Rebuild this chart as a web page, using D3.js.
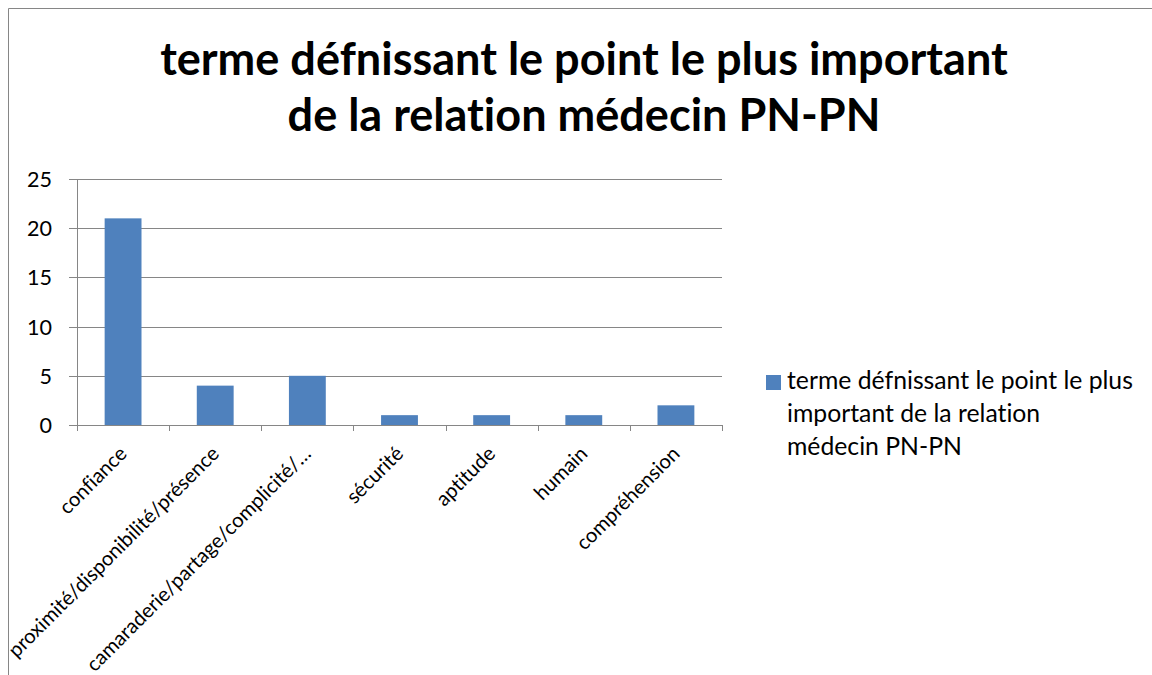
<!DOCTYPE html>
<html><head><meta charset="utf-8">
<script src="https://cdn.jsdelivr.net/npm/d3@7"></script>
<style>body{margin:0;background:#fff}svg{display:block}text{font-variant-ligatures:none;font-feature-settings:"liga" 0}</style>
</head><body>
<svg id="c" width="1152" height="675"></svg>
<script>
const titleLines = ["terme défnissant le point le plus important", "de la relation médecin PN-PN"];
const categories = ["confiance", "proximité/disponibilité/présence", "camaraderie/partage/complicité/…", "sécurité", "aptitude", "humain", "compréhension"];
const values = [21, 4, 5, 1, 1, 1, 2];
const yTicks = [0, 5, 10, 15, 20, 25];
const legendLines = ["terme défnissant le point le plus", "important de la relation", "médecin PN-PN"];

const FONT = "Lato, 'Open Sans', sans-serif";
const svg = d3.select("#c");
const W = 1152, H = 675;
svg.append("rect").attr("width", W).attr("height", H).attr("fill", "#fff");
svg.append("path").attr("d", `M8.5,${H} V8.5 H${W}`).attr("fill", "none").attr("stroke", "#868686").attr("stroke-width", 1);

function fit(sel, k, target, base) {
  sel.attr("font-size", base);
  const w = sel.nodes()[k].getComputedTextLength();
  sel.attr("font-size", base * target / w);
}

const m = {left: 77, top: 179, right: 722, bottom: 425};
const x = d3.scaleBand().domain(categories).range([m.left, m.right]).paddingInner(0.6).paddingOuter(0.3);
const xb = d3.scaleBand().domain(categories).range([m.left, m.right]);
const y = d3.scaleLinear().domain([0, 25]).range([m.bottom, m.top]);

const g = svg.append("g");
g.selectAll("line.grid").data(yTicks).join("line")
  .attr("x1", m.left - 8).attr("x2", m.right)
  .attr("y1", d => Math.round(y(d)) + 0.5).attr("y2", d => Math.round(y(d)) + 0.5)
  .attr("stroke", "#868686").attr("stroke-width", 1);
g.append("line").attr("x1", m.left + 0.5).attr("x2", m.left + 0.5).attr("y1", m.top).attr("y2", m.bottom + 6)
  .attr("stroke", "#868686");
const xt = categories.map(c => xb(c)).concat([m.right]);
g.selectAll("line.xt").data(xt).join("line")
  .attr("x1", d => Math.round(d) + 0.5).attr("x2", d => Math.round(d) + 0.5)
  .attr("y1", m.bottom).attr("y2", m.bottom + 6).attr("stroke", "#868686");

g.selectAll("rect.bar").data(values).join("rect")
  .attr("x", (d, i) => x(categories[i])).attr("width", x.bandwidth())
  .attr("y", d => y(d)).attr("height", d => y(0) - y(d))
  .attr("fill", "#4F81BD");

const yl = g.selectAll("text.yl").data(yTicks).join("text")
  .attr("x", 52).attr("y", d => y(d) + 8)
  .attr("text-anchor", "end").attr("font-family", FONT).attr("fill", "#000")
  .text(d => d);
fit(yl, 5, 25, 22);

const xl = g.selectAll("text.xl").data(categories).join("text")
  .attr("transform", c => `translate(${xb(c) + xb.bandwidth() / 2 + 5},${m.bottom + 30}) rotate(-45)`)
  .attr("text-anchor", "end").attr("font-family", FONT).attr("fill", "#000")
  .text(c => c);
fit(xl, 2, 308, 20);

const tl = svg.selectAll("text.title").data(titleLines).join("text")
  .attr("x", 584).attr("y", (d, i) => 75 + i * 56)
  .attr("text-anchor", "middle").attr("font-family", FONT).attr("font-weight", "bold")
  .attr("fill", "#000").text(d => d);
fit(tl, 0, 848, 40);

svg.append("rect").attr("x", 766).attr("y", 375).attr("width", 15).attr("height", 15).attr("fill", "#4F81BD");
const lg = svg.selectAll("text.lg").data(legendLines).join("text")
  .attr("x", 787).attr("y", (d, i) => 389 + i * 33)
  .attr("font-family", FONT).attr("fill", "#000").text(d => d);
fit(lg, 0, 346, 22);
</script>
</body></html>
